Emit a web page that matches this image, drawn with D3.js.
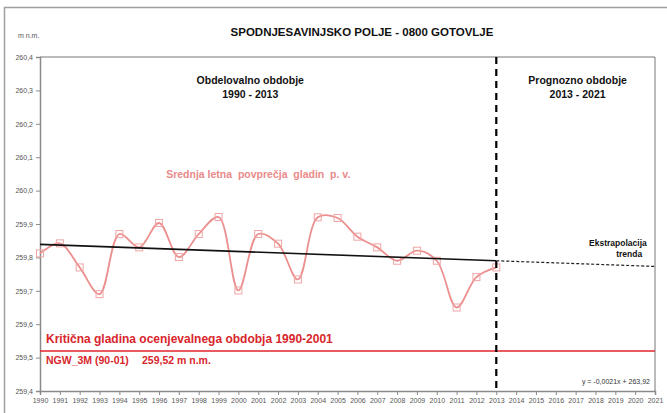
<!DOCTYPE html>
<html>
<head>
<meta charset="utf-8">
<script src="https://cdn.jsdelivr.net/npm/d3@7"></script>
<style>
  body { margin: 0; background: #fff; }
  svg { font-family: "Liberation Sans", Arial, sans-serif; }
</style>
</head>
<body>
<div id="chart"></div>
<script>
// Data
const years = [1990, 1991, 1992, 1993, 1994, 1995, 1996, 1997, 1998, 1999, 2000, 2001,
               2002, 2003, 2004, 2005, 2006, 2007, 2008, 2009, 2010, 2011, 2012, 2013];
const levels = [259.812, 259.842, 259.770, 259.690, 259.870, 259.830, 259.903, 259.801,
                259.870, 259.921, 259.701, 259.870, 259.841, 259.734, 259.920, 259.918,
                259.862, 259.830, 259.790, 259.820, 259.790, 259.650, 259.741, 259.770];
const trendYears = [1990, 2013];
const trendValues = [259.839, 259.790];
const extrapYears = [2013, 2021];
const extrapValues = [259.790, 259.773];
const criticalLevel = 259.52;
const splitYear = 2013;
const xTicks = d3.range(1990, 2022);
const yTicks = [259.4, 259.5, 259.6, 259.7, 259.8, 259.9, 260.0, 260.1, 260.2, 260.3, 260.4];

const W = 667, H = 413;
const margin = { top: 57, right: 12, bottom: 22, left: 40 };
const width = W - margin.left - margin.right;
const height = H - margin.top - margin.bottom;

const svg = d3.select("#chart").append("svg")
    .attr("width", W)
    .attr("height", H);

// outer frame
svg.append("rect")
    .attr("x", 4.5).attr("y", 7.5)
    .attr("width", 670).attr("height", 420)
    .attr("fill", "none")
    .attr("stroke", "#a0a0a0")
    .attr("stroke-width", 1.5);

svg.append("text")
    .attr("x", 362).attr("y", 36)
    .attr("text-anchor", "middle")
    .style("font-size", "11.5px")
    .style("font-weight", "bold")
    .attr("fill", "#111")
    .text("SPODNJESAVINJSKO POLJE - 0800 GOTOVLJE");

svg.append("text")
    .attr("x", 18).attr("y", 38)
    .style("font-size", "7px")
    .attr("fill", "#555")
    .text("m n.m.");

const g = svg.append("g")
    .attr("transform", `translate(${margin.left},${margin.top})`);

const x = d3.scaleLinear().domain([1990, 2021]).range([0, width]);
const y = d3.scaleLinear().domain([259.4, 260.4]).range([height, 0]);

// plot border (top and right)
g.append("path")
    .attr("d", `M0,0H${width}V${height}`)
    .attr("fill", "none")
    .attr("stroke", "#777")
    .attr("stroke-width", 1);

// axes
const fmt = d => d3.format(".1f")(d).replace(".", ",");
const yAxis = g.append("g")
    .call(d3.axisLeft(y).tickValues(yTicks).tickFormat(fmt).tickSize(4).tickPadding(3));
const xAxis = g.append("g")
    .attr("transform", `translate(0,${height})`)
    .call(d3.axisBottom(x).tickValues(xTicks).tickFormat(d3.format("d")).tickSize(4).tickPadding(3));
[xAxis, yAxis].forEach(ax => {
    ax.select(".domain").attr("stroke", "#8a8a8a").attr("stroke-width", 1.5);
    ax.selectAll(".tick line").attr("stroke", "#8a8a8a");
    ax.selectAll("text").attr("fill", "#555").style("font-size", "7px")
        .style("font-family", "'Liberation Sans', Arial, sans-serif");
});

// critical level line
g.append("line")
    .attr("x1", 0).attr("x2", width)
    .attr("y1", y(criticalLevel)).attr("y2", y(criticalLevel))
    .attr("stroke", "#e0252b")
    .attr("stroke-width", 1.5);

// mean annual levels
const pts = years.map((d, i) => [d, levels[i]]);
g.append("path")
    .datum(pts)
    .attr("fill", "none")
    .attr("stroke", "#ec8f8f")
    .attr("stroke-width", 1.8)
    .attr("d", d3.line().x(d => x(d[0])).y(d => y(d[1])).curve(d3.curveCatmullRom.alpha(0.5)));

g.selectAll(".pt")
    .data(pts)
    .enter().append("rect")
    .attr("class", "pt")
    .attr("x", d => x(d[0]) - 3.5)
    .attr("y", d => y(d[1]) - 3.5)
    .attr("width", 7).attr("height", 7)
    .attr("fill", "none")
    .attr("stroke", "#f0a5a5")
    .attr("stroke-width", 1);

// trend line and extrapolation
g.append("line")
    .attr("x1", x(trendYears[0])).attr("y1", y(trendValues[0]))
    .attr("x2", x(trendYears[1])).attr("y2", y(trendValues[1]))
    .attr("stroke", "#111")
    .attr("stroke-width", 1.6);

g.append("line")
    .attr("x1", x(extrapYears[0])).attr("y1", y(extrapValues[0]))
    .attr("x2", x(extrapYears[1])).attr("y2", y(extrapValues[1]))
    .attr("stroke", "#222")
    .attr("stroke-width", 1.2)
    .attr("stroke-dasharray", "3,2");

// split between periods
g.append("line")
    .attr("x1", x(splitYear)).attr("x2", x(splitYear))
    .attr("y1", 0).attr("y2", height)
    .attr("stroke", "#000")
    .attr("stroke-width", 2.2)
    .attr("stroke-dasharray", "7,5");

// labels
const label = (tx, ty, txt, opts = {}) => g.append("text")
    .attr("x", tx).attr("y", ty)
    .attr("text-anchor", opts.anchor || "middle")
    .style("font-size", opts.size || "10px")
    .style("font-weight", opts.weight || "bold")
    .style("white-space", "pre")
    .attr("fill", opts.fill || "#111")
    .text(txt);

label(x(2000.6), 27, "Obdelovalno obdobje", { size: "10.5px" });
label(x(2000.6), 41, "1990 - 2013", { size: "10.5px" });
label(x(2017.1), 27, "Prognozno obdobje", { size: "10.5px" });
label(x(2017.1), 41, "2013 - 2021", { size: "10.5px" });
label(x(2001), 121, "Srednja letna  povprečja  gladin  p. v.",
    { size: "10.5px", weight: "600", fill: "#e98a8a" });
label(x(2019.13), 189, "Ekstrapolacija", { size: "8.5px" });
label(x(2019.7), 200, "trenda", { size: "8.5px" });
label(6, 286, "Kritična gladina ocenjevalnega obdobja 1990-2001",
    { anchor: "start", size: "12px", fill: "#d8262c" });
label(6, 307, "NGW_3M (90-01)", { anchor: "start", size: "10.5px", fill: "#d8262c" });
label(102, 307, "259,52 m n.m.", { anchor: "start", size: "10.5px", fill: "#d8262c" });
label(width - 5, 327, "y = -0,0021x + 263,92",
    { anchor: "end", size: "7px", weight: "normal", fill: "#333" });
</script>
</body>
</html>
